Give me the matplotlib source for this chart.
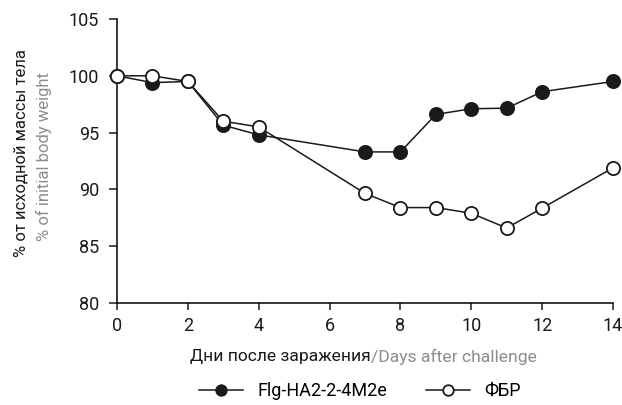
import matplotlib
matplotlib.use("Agg")
import matplotlib.pyplot as plt

plt.rcParams['font.family'] = ['Roboto', 'DejaVu Sans']

days = [0, 1, 2, 3, 4, 7, 8, 9, 10, 11, 12, 14]
flg = [100, 99.4, 99.5, 95.65, 94.8, 93.3, 93.3, 96.6, 97.1, 97.15, 98.6, 99.5]
pbs = [100, 100, 99.5, 96.0, 95.5, 89.65, 88.4, 88.4, 87.9, 86.6, 88.35, 91.9]

xticks = [0, 2, 4, 6, 8, 10, 12, 14]
yticks = [80, 85, 90, 95, 100, 105]

grey = '#8c8c8c'
ink = '#1a1a1a'
W, H = 622, 405

fig = plt.figure(figsize=(W / 100, H / 100), dpi=100)
ax = fig.add_axes([117 / W, 1 - 303 / H, (613 - 117) / W, (303 - 19) / H])

ax.plot(days, flg, color=ink, lw=1.1, marker='o', ms=9.5,
        mfc=ink, mec=ink, mew=1.3, label='Flg-HA2-2-4M2e', clip_on=False, zorder=3)
ax.plot(days, pbs, color=ink, lw=1.1, marker='o', ms=9.5,
        mfc='white', mec=ink, mew=1.3, label='ФБР', clip_on=False, zorder=4)

ax.set_xlim(0, 14)
ax.set_ylim(80, 105)
ax.set_xticks(xticks)
ax.set_yticks(yticks)
for s in ['top', 'right']:
    ax.spines[s].set_visible(False)
for s in ['left', 'bottom']:
    ax.spines[s].set_linewidth(1.1)
ax.tick_params(direction='out', width=1.1, labelsize=12, colors=ink)
ax.tick_params(axis='x', length=5, pad=5)
ax.tick_params(axis='y', length=6, pad=7)
for lab in ax.get_xticklabels() + ax.get_yticklabels():
    lab.set_family(['Liberation Sans Narrow', 'Roboto'])
    lab.set_fontsize(13)

# y label, two lines in two colours
fig.text(21 / W, 1 - 153 / H, '% от исходной массы тела', rotation=90,
         ha='center', va='center', fontsize=12, color=ink)
fig.text(44 / W, 1 - 157 / H, '% of initial body weight', rotation=90,
         ha='center', va='center', fontsize=12, color=grey)

# x label
fig.text(371 / W, 1 - 357 / H, 'Дни после заражения', ha='right', va='center',
         fontsize=12.6, color=ink)
fig.text(371 / W, 1 - 357 / H, '/Days after challenge', ha='left', va='center',
         fontsize=12.6, color=grey)

fig.legend(loc='center', bbox_to_anchor=(360 / W, 1 - 391 / H), ncol=2, frameon=False,
           fontsize=13, handlelength=2.4, handletextpad=0.8, columnspacing=2.2,
           markerscale=0.8)

fig.savefig('out.png', dpi=100)
